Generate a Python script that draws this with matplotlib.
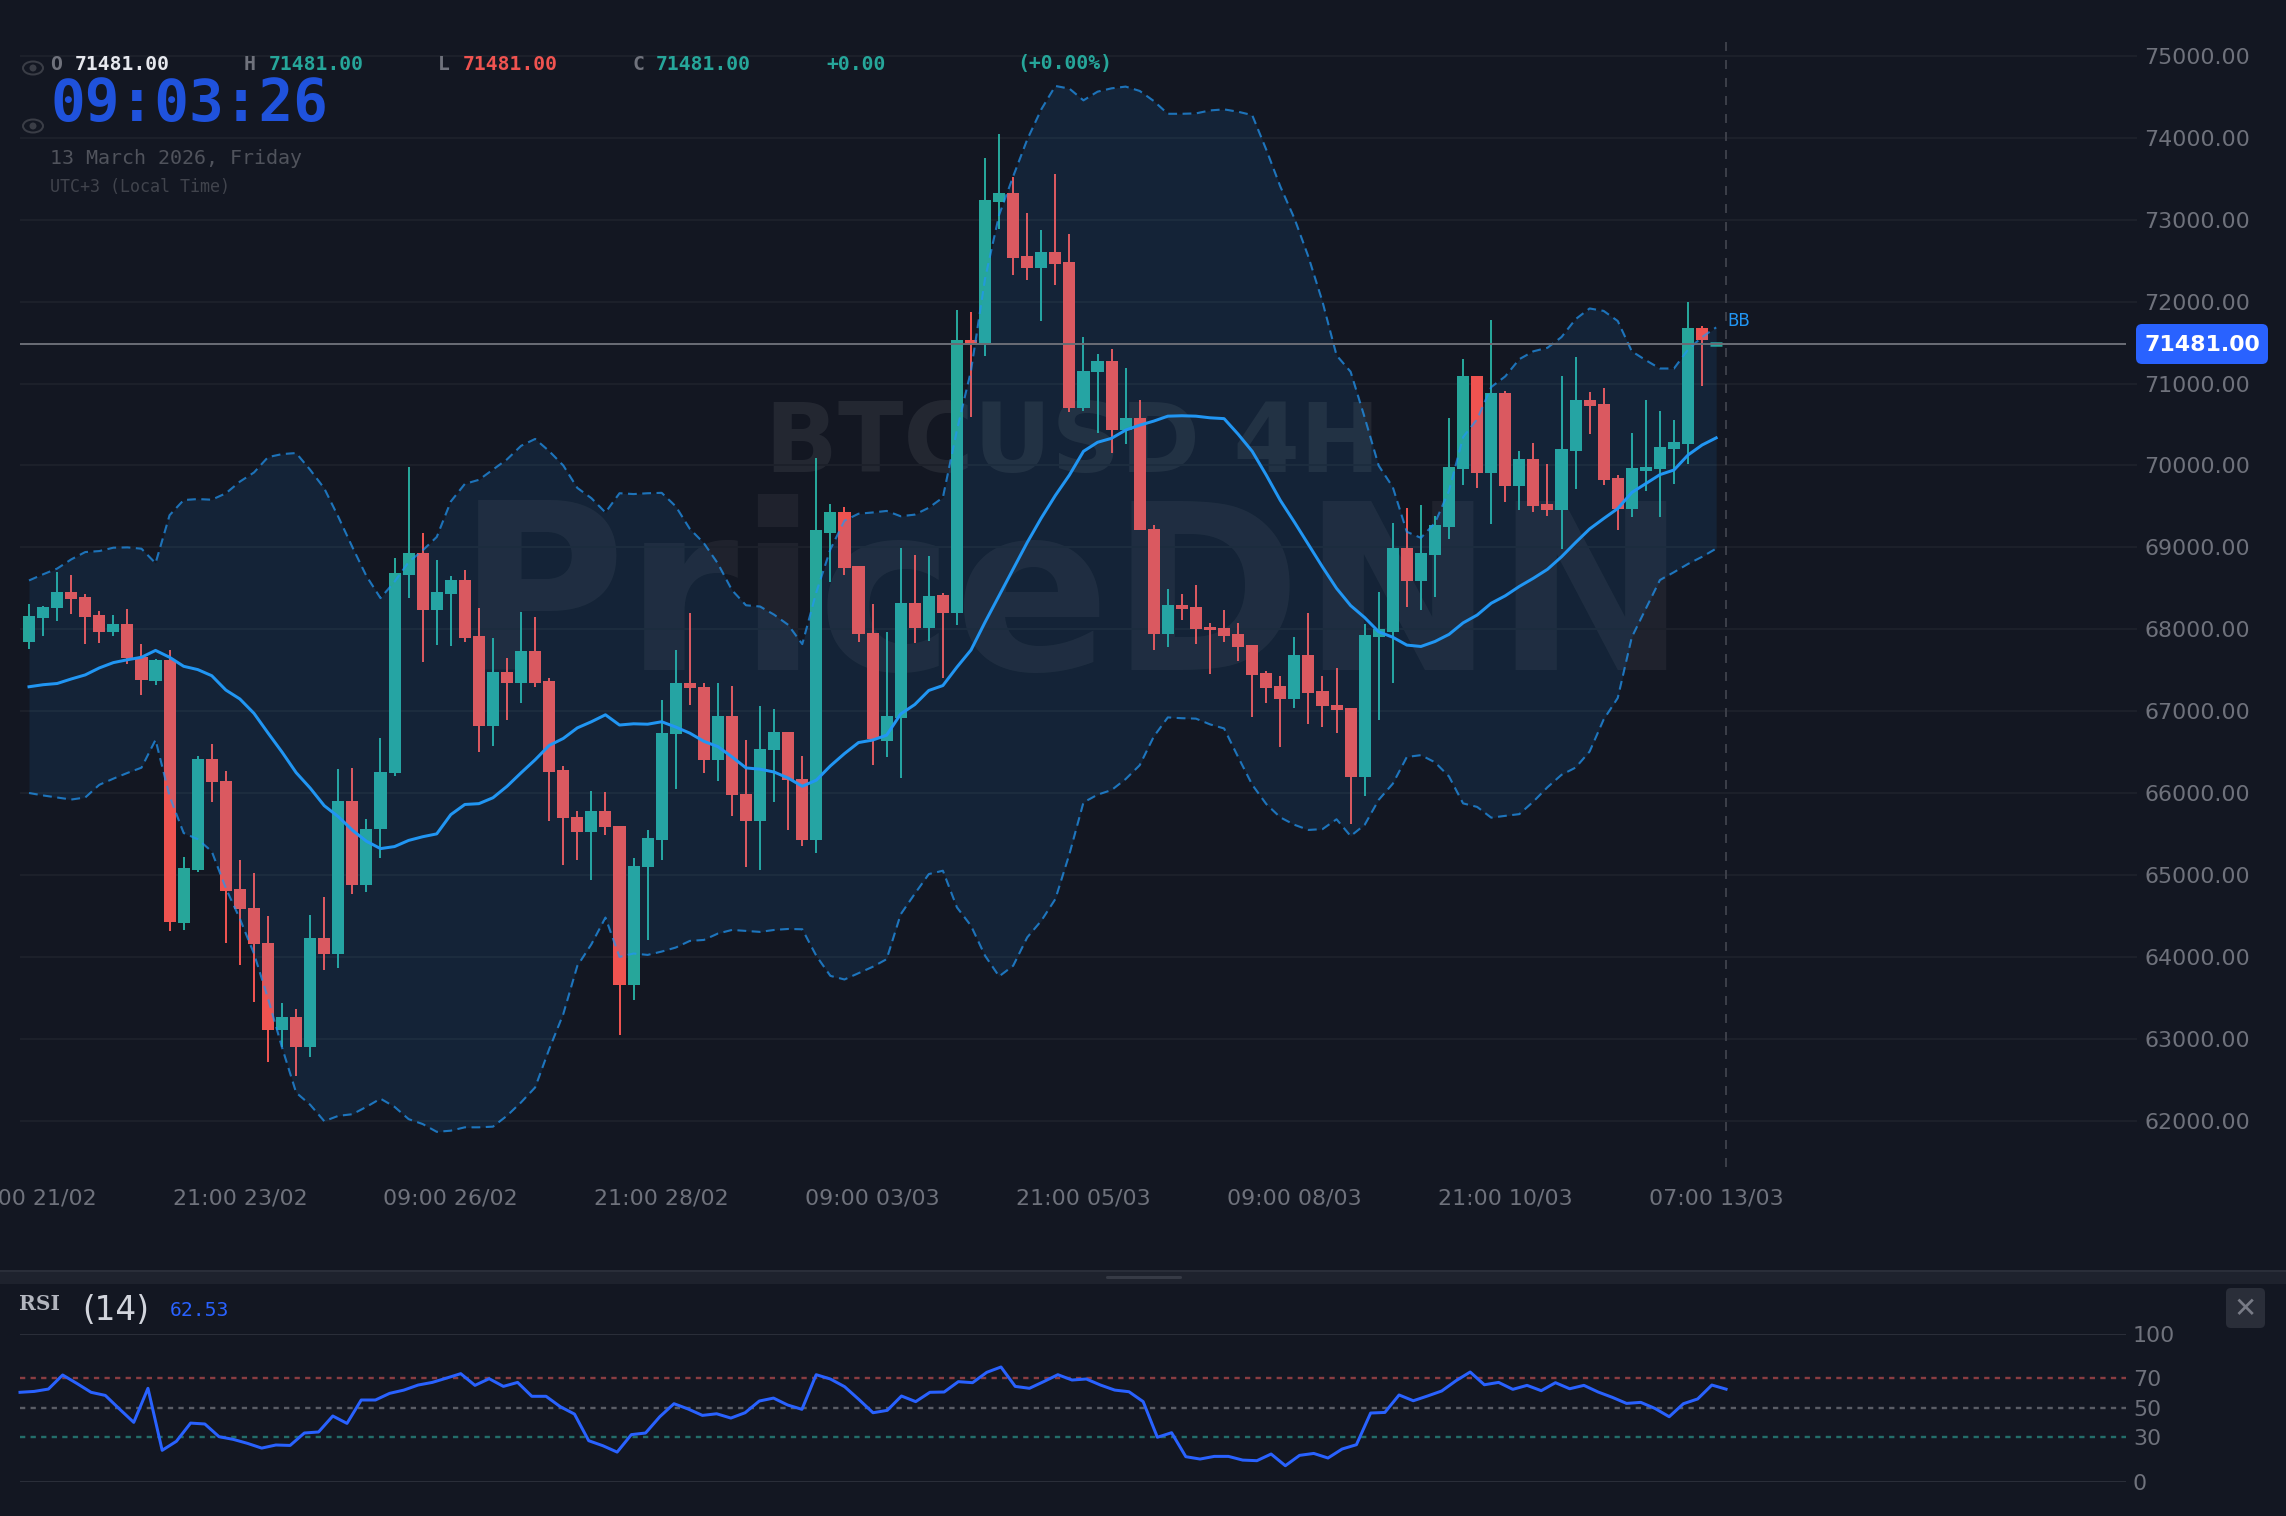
import matplotlib
matplotlib.use("Agg")
import matplotlib.pyplot as plt
from matplotlib.patches import Ellipse, FancyBboxPatch, Rectangle

WIDTH, HEIGHT = 2286, 1516

BG = "#131722"
GRID = "#1c202a"
TEAL = "#26a69a"
RED = "#ef5350"
BLUE = "#2196f3"
ROYAL = "#2962ff"
AXIS_TEXT = "#6f727c"

# 4h candles, oldest first
opens = [67847, 68142, 68256, 68451, 68391, 68172, 67972, 68067, 67663, 67373, 67628, 64419, 65063, 66420, 66146,
         64828, 64594, 64175, 63102, 63261, 62897, 64225, 64040, 65901, 64878, 65557, 66245, 68666, 68930, 68241,
         68436, 68598, 67914, 66816, 67475, 67345, 67735, 67365, 66278, 65714, 65519, 65784, 65599, 63653, 65095,
         65429, 66722, 67345, 67300, 66402, 66941, 65988, 65659, 66527, 66742, 66178, 65429, 69172, 69426, 68772,
         67959, 66642, 66921, 68323, 68012, 68416, 68201, 71530, 71475, 73212, 73321, 72553, 72408, 72603, 72483,
         70697, 71136, 71270, 70432, 70577, 69230, 67947, 68301, 68276, 68032, 68012, 67942, 67802, 67463, 67308,
         67144, 67692, 67248, 67074, 67039, 66193, 67903, 67969, 68994, 68588, 68907, 69251, 69962, 71088, 69914,
         70879, 69753, 70085, 69526, 69461, 70176, 70800, 70752, 69853, 69469, 69932, 69962, 70202, 70259, 71682,
         71481]
highs = [68306, 68281, 68701, 68661, 68426, 68222, 68177, 68246, 67817, 67643, 67752, 65223, 66455, 66600, 66265,
         65178, 65023, 64499, 63436, 63366, 64514, 64734, 66295, 66310, 65687, 66675, 68875, 69987, 69170, 68850,
         68646, 68718, 68258, 67894, 67650, 68214, 68149, 67410, 66328, 65784, 66023, 66013, 65599, 65210, 65549,
         67141, 67749, 68199, 67345, 67340, 67305, 66652, 67061, 67031, 66742, 66457, 70095, 69531, 69496, 68772,
         68313, 67964, 68997, 68912, 68900, 68446, 71894, 71879, 73751, 74050, 73521, 73082, 72877, 73561, 72832,
         71570, 71365, 71425, 71186, 70801, 69270, 68486, 68436, 68546, 68077, 68237, 68082, 67802, 67488, 67428,
         67902, 68202, 67428, 67533, 67039, 68069, 68457, 69299, 69483, 69517, 69387, 70578, 71298, 71088, 71773,
         70914, 70172, 70272, 70019, 71092, 71319, 70896, 70949, 69888, 70394, 70800, 70661, 70556, 71996, 71699,
         71481]
lows = [67757, 67922, 68107, 68192, 67817, 67837, 67917, 67578, 67199, 67323, 64314, 64334, 65038, 65891, 64165,
        63900, 63446, 62717, 62902, 62543, 62777, 63840, 63860, 64763, 64788, 65208, 66210, 68386, 67603, 67812,
        67797, 67849, 66507, 66577, 66891, 67106, 67290, 65659, 65125, 65180, 64935, 65494, 63044, 63478, 64212,
        65185, 66053, 67081, 66247, 66143, 65724, 65095, 65060, 65893, 65549, 65354, 65264, 68578, 68658, 67844,
        66347, 66442, 66183, 67834, 67862, 67408, 68057, 70592, 71340, 72892, 72323, 72268, 71760, 72199, 70652,
        70662, 70397, 70148, 70267, 69210, 67752, 67787, 68112, 67822, 67453, 67847, 67618, 66929, 67099, 66565,
        67039, 66839, 66809, 66735, 65626, 65966, 66895, 67349, 68274, 68239, 68392, 69107, 69757, 69731, 69291,
        69548, 69461, 69426, 69387, 68985, 69714, 70381, 69757, 69216, 69365, 69688, 69365, 69775, 70019, 70966,
        71481]
closes = [68162, 68271, 68451, 68371, 68152, 67972, 68062, 67648, 67378, 67628, 64424, 65083, 66420, 66131, 64808,
          64579, 64155, 63102, 63261, 62897, 64230, 64040, 65906, 64878, 65567, 66260, 68691, 68930, 68241, 68456,
          68598, 67894, 66816, 67475, 67345, 67735, 67345, 66263, 65694, 65519, 65784, 65584, 63653, 65115, 65449,
          66731, 67345, 67280, 66402, 66941, 65973, 65659, 66537, 66742, 66158, 65429, 69212, 69426, 68747, 67939,
          66657, 66936, 68323, 68014, 68406, 68201, 71530, 71475, 73237, 73321, 72528, 72408, 72603, 72463, 70697,
          71156, 71270, 70432, 70577, 69210, 67947, 68301, 68252, 68007, 67987, 67922, 67782, 67443, 67288, 67144,
          67692, 67228, 67059, 67019, 66193, 67925, 67999, 68994, 68592, 68933, 69273, 69984, 71088, 69914, 70879,
          69753, 70085, 69500, 69461, 70202, 70800, 70730, 69818, 69469, 69967, 69980, 70224, 70281, 71682, 71533,
          71481]

bb_upper = [68596, 68671, 68741, 68853, 68943, 68955, 68996, 69000, 68984, 68807, 69393, 69578, 69590, 69582, 69660,
            69803, 69914, 70102, 70139, 70152, 69947, 69721, 69373, 69004, 68650, 68381, 68581, 68820, 68963, 69127,
            69560, 69775, 69825, 69950, 70075, 70240, 70324, 70175, 70000, 69726, 69601, 69426, 69661, 69651, 69661,
            69666, 69501, 69227, 69052, 68802, 68478, 68293, 68278, 68178, 68054, 67819, 68453, 68977, 69326, 69411,
            69426, 69445, 69380, 69400, 69484, 69609, 70432, 71157, 72282, 73059, 73530, 73980, 74348, 74634, 74601,
            74458, 74564, 74605, 74626, 74573, 74450, 74294, 74294, 74299, 74335, 74348, 74319, 74278, 73857, 73407,
            73018, 72548, 72000, 71345, 71145, 70586, 69997, 69736, 69190, 69116, 69299, 69692, 70346, 70565, 70957,
            71088, 71298, 71394, 71437, 71568, 71786, 71917, 71887, 71764, 71394, 71285, 71184, 71184, 71415, 71568,
            71686]
bb_middle = [67298, 67323, 67338, 67393, 67443, 67528, 67593, 67628, 67658, 67742, 67658, 67548, 67508, 67433, 67258,
             67149, 66974, 66734, 66500, 66250, 66061, 65846, 65712, 65547, 65412, 65322, 65347, 65422, 65467, 65502,
             65737, 65861, 65871, 65943, 66083, 66248, 66407, 66582, 66667, 66796, 66871, 66956, 66831, 66846, 66841,
             66871, 66806, 66732, 66632, 66567, 66442, 66307, 66292, 66257, 66183, 66083, 66158, 66332, 66482, 66617,
             66647, 66707, 66966, 67081, 67253, 67313, 67538, 67747, 68087, 68411, 68736, 69060, 69359, 69634, 69883,
             70173, 70283, 70332, 70432, 70492, 70542, 70602, 70607, 70602, 70582, 70572, 70382, 70173, 69883, 69574,
             69309, 69035, 68761, 68500, 68290, 68143, 67969, 67903, 67807, 67790, 67851, 67938, 68078, 68174, 68318,
             68409, 68523, 68623, 68732, 68885, 69059, 69225, 69352, 69474, 69670, 69779, 69888, 69945, 70128, 70250,
             70337]
bb_lower = [66001, 65971, 65946, 65921, 65946, 66101, 66176, 66246, 66310, 66650, 65961, 65512, 65437, 65287, 64838,
            64464, 64040, 63491, 62892, 62343, 62194, 61994, 62059, 62079, 62169, 62269, 62169, 62019, 61959, 61864,
            61878, 61919, 61919, 61927, 62061, 62224, 62406, 62874, 63301, 63890, 64154, 64480, 64000, 64041, 64024,
            64065, 64114, 64195, 64207, 64285, 64329, 64317, 64305, 64329, 64341, 64337, 64012, 63768, 63724, 63801,
            63878, 63972, 64520, 64770, 65011, 65052, 64604, 64380, 64014, 63762, 63892, 64238, 64441, 64706, 65255,
            65886, 65980, 66037, 66171, 66340, 66690, 66924, 66914, 66909, 66839, 66789, 66440, 66102, 65866, 65703,
            65613, 65550, 65560, 65680, 65475, 65612, 65918, 66114, 66441, 66463, 66376, 66202, 65874, 65831, 65700,
            65722, 65743, 65896, 66071, 66223, 66311, 66507, 66899, 67161, 67903, 68252, 68601, 68697, 68798, 68885,
            68985]

rsi = [60.4, 61.0, 62.6, 72.1, 66.4, 60.4, 58.3, 49.1, 40.1, 63.1, 21.2, 27.3, 39.6, 39.0, 30.4, 28.6, 25.9, 22.7,
       24.8, 24.5, 32.9, 33.6, 44.4, 39.4, 55.2, 55.2, 59.7, 61.9, 65.3, 67.1, 70.0, 73.0, 65.1, 69.6, 64.4, 67.1,
       57.7, 57.7, 50.7, 45.7, 27.7, 24.3, 20.0, 31.8, 32.9, 43.9, 52.7, 49.1, 44.8, 45.9, 43.0, 46.6, 54.5, 56.5,
       51.8, 48.9, 72.3, 69.4, 64.2, 55.6, 46.6, 48.2, 57.9, 54.1, 60.4, 60.6, 67.6, 66.9, 73.9, 77.5, 64.4, 63.1,
       67.6, 72.3, 68.7, 69.4, 65.3, 61.9, 60.8, 54.1, 30.0, 33.1, 16.9, 15.3, 17.1, 17.1, 14.6, 14.2, 18.7, 10.8,
       17.8, 19.1, 16.0, 22.1, 25.0, 46.4, 46.8, 58.6, 54.7, 57.9, 61.3, 68.2, 74.1, 65.5, 67.1, 62.4, 65.1, 61.5,
       66.9, 62.8, 65.1, 60.6, 57.0, 52.9, 53.6, 49.5, 43.9, 52.7, 55.9, 65.3, 62.53]

price_ticks = list(range(62000, 75001, 1000))
time_ticks = [0, 15, 30, 45, 60, 75, 90, 105, 120]
time_labels = ["09:00 21/02", "21:00 23/02", "09:00 26/02", "21:00 28/02", "09:00 03/03",
               "21:00 05/03", "09:00 08/03", "21:00 10/03", "07:00 13/03"]
rsi_ticks = [100, 70, 50, 30, 0]
last_price = 71481.00


def px(size):
    """Pixel length to points at the 100 dpi used here."""
    return size * 0.72


def axes_at(fig, left, top, right, bottom, **kwargs):
    return fig.add_axes([left / WIDTH, 1 - bottom / HEIGHT, (right - left) / WIDTH, (bottom - top) / HEIGHT], **kwargs)


def draw_candles(ax):
    xs = range(len(closes))
    for i in xs:
        color = TEAL if closes[i] >= opens[i] else RED
        ax.vlines(i, lows[i], highs[i], color=color, linewidth=px(2), capstyle="butt", zorder=3)
        if closes[i] == opens[i]:
            # flat candle, only a thick dash
            ax.hlines(closes[i], i - 0.43, i + 0.43, color=color, linewidth=px(4.5), capstyle="butt", zorder=3)
        else:
            ax.bar(i, abs(closes[i] - opens[i]), bottom=min(opens[i], closes[i]), width=0.86,
                   color=color, linewidth=0, zorder=3)


def draw_bollinger(ax):
    xs = list(range(len(bb_middle)))
    ax.fill_between(xs, bb_lower, bb_upper, color=BLUE, alpha=0.1, linewidth=0, zorder=4)
    ax.plot(xs, bb_upper, color=BLUE, alpha=0.72, linewidth=px(2.1), dashes=(4.2, 2.6), zorder=5)
    ax.plot(xs, bb_lower, color=BLUE, alpha=0.72, linewidth=px(2.1), dashes=(4.2, 2.6), zorder=5)
    ax.plot(xs, bb_middle, color=BLUE, linewidth=px(3), zorder=6)


def draw_header(ui):
    mono = "DejaVu Sans Mono"
    row = [(50, "O", AXIS_TEXT), (75, "71481.00", "#e6e8ee"),
           (244, "H", AXIS_TEXT), (269, "71481.00", TEAL),
           (438, "L", AXIS_TEXT), (463, "71481.00", RED),
           (633, "C", AXIS_TEXT), (656, "71481.00", TEAL),
           (826, "+0.00", TEAL), (1017, "(+0.00%)", TEAL)]
    for x, label, color in row:
        ui.text(x, 64, label, color=color, family=mono, fontweight="bold", fontsize=14.2, ha="left", va="center")
    ui.text(51, 104, "09:03:26", color="#1f52dc", family=mono, fontweight="bold", fontsize=41.5, ha="left", va="center")
    ui.text(50, 158, "13 March 2026, Friday", color="#50535c", family=mono, fontsize=14.4, ha="left", va="center")
    ui.text(50, 187, "UTC+3 (Local Time)", color="#41444d", family=mono, fontsize=12, ha="left", va="center")

    for y in (68, 126):
        ui.add_patch(Ellipse((33, y), 20, 13, facecolor="none", edgecolor="#3a3d46", linewidth=px(2)))
        ui.add_patch(Ellipse((33, y), 7, 7, facecolor="#3a3d46", edgecolor="none"))


def draw_rsi_chrome(ui):
    # drag strip between the two panes
    ui.add_patch(Rectangle((0, 1270), WIDTH, 2, facecolor="#2a2e39", edgecolor="none"))
    ui.add_patch(Rectangle((0, 1272), WIDTH, 12, facecolor="#1e222d", edgecolor="none"))
    ui.add_patch(FancyBboxPatch((1106, 1276), 76, 3, boxstyle="round,pad=0,rounding_size=1.5",
                                facecolor="#363a45", edgecolor="none"))

    ui.text(19, 1304, "RSI", color="#b2b5be", family="DejaVu Serif", fontweight="bold", fontsize=14.5,
            ha="left", va="center")
    ui.text(82, 1311, "(14)", color="#d1d4dc", fontsize=23.5, ha="left", va="center")
    ui.text(170, 1310, "62.53", color=ROYAL, family="DejaVu Sans Mono", fontsize=14.2, ha="left", va="center")

    # close button of the pane
    ui.add_patch(FancyBboxPatch((2226, 1288), 39, 40, boxstyle="round,pad=0,rounding_size=5",
                                facecolor="#2a2e39", edgecolor="none"))
    ui.text(2245.5, 1309, "\u2715", color="#787b86", fontsize=20, ha="center", va="center")


fig = plt.figure(figsize=(WIDTH / 100, HEIGHT / 100), dpi=100, facecolor=BG)

# watermark sits under everything else
back = axes_at(fig, 0, 0, WIDTH, HEIGHT, zorder=0)
back.set_xlim(0, WIDTH)
back.set_ylim(HEIGHT, 0)
back.axis("off")
back.text(1073, 670, "PriceDNN", color="white", alpha=0.05, fontweight="bold", fontsize=166, ha="center", va="baseline")
back.text(1073, 472, "BTCUSD 4H", color="white", alpha=0.07, fontweight="bold", fontsize=69, ha="center", va="baseline")

# price pane, scales chosen so 1000 USD is 81.9 px and a candle step 14.06 px
ax = axes_at(fig, 20, 30, 2126, 1170, zorder=1)
ax.patch.set_alpha(0)
ax.set_xlim(-0.64, 149.15)
ax.set_ylim(61398, 75317)
for spine in ax.spines.values():
    spine.set_visible(False)
ax.set_yticks(price_ticks, [f"{p:.2f}" for p in price_ticks])
ax.yaxis.tick_right()
ax.tick_params(axis="y", length=px(11), width=px(2), color=GRID, pad=px(7), labelsize=15.9, labelcolor=AXIS_TEXT)
ax.set_xticks(time_ticks, time_labels)
ax.tick_params(axis="x", length=0, pad=px(18), labelsize=15.9, labelcolor=AXIS_TEXT)
ax.grid(axis="y", color=GRID, linewidth=px(2), zorder=1)
ax.set_axisbelow(True)

draw_candles(ax)
draw_bollinger(ax)
ax.axhline(last_price, color="#686b74", linewidth=px(2), zorder=7)
ax.axvline((1726 - 29) / 14.06, ymin=3 / 1140, ymax=(1170 - 39) / 1140, color="#3b3e48", linewidth=px(2),
           dashes=(4.5, 4.5), zorder=7)

# RSI pane, 14.217 px per step
rsi_ax = axes_at(fig, 20, 1333.7, 2126, 1481.7, zorder=1)
rsi_ax.patch.set_alpha(0)
rsi_ax.set_xlim(0, 148.13)
rsi_ax.set_ylim(0, 100)
for spine in rsi_ax.spines.values():
    spine.set_visible(False)
rsi_ax.set_xticks([])
rsi_ax.set_yticks(rsi_ticks, [str(v) for v in rsi_ticks])
rsi_ax.yaxis.tick_right()
rsi_ax.tick_params(axis="y", length=0, pad=px(7), labelsize=15.9, labelcolor=AXIS_TEXT)
rsi_ax.axhline(100, color="#2a2e39", linewidth=px(2))
rsi_ax.axhline(0, color="#2a2e39", linewidth=px(2))
rsi_ax.axhline(70, color="#8a3d42", linewidth=px(2.4), dashes=(2.2, 2.2))
rsi_ax.axhline(50, color="#5a5d66", linewidth=px(2.4), dashes=(2.2, 2.2))
rsi_ax.axhline(30, color="#236e6a", linewidth=px(2.4), dashes=(2.2, 2.2))
rsi_ax.plot(range(len(rsi)), rsi, color=ROYAL, linewidth=px(3), clip_on=False, zorder=5)

# labels and panels in plain pixel coordinates
ui = axes_at(fig, 0, 0, WIDTH, HEIGHT, zorder=10)
ui.patch.set_alpha(0)
ui.set_xlim(0, WIDTH)
ui.set_ylim(HEIGHT, 0)
ui.axis("off")

draw_header(ui)
draw_rsi_chrome(ui)

ui.text(1727, 321, "BB", color=BLUE, fontsize=12, ha="left", va="center")
ui.add_patch(FancyBboxPatch((2136, 324), 132, 40, boxstyle="round,pad=0,rounding_size=6",
                            facecolor=ROYAL, edgecolor="none"))
ui.text(2202, 345, f"{last_price:.2f}", color="white", fontweight="bold", fontsize=15.9, ha="center", va="center")

fig.savefig("out.png", dpi=100, facecolor=BG)
